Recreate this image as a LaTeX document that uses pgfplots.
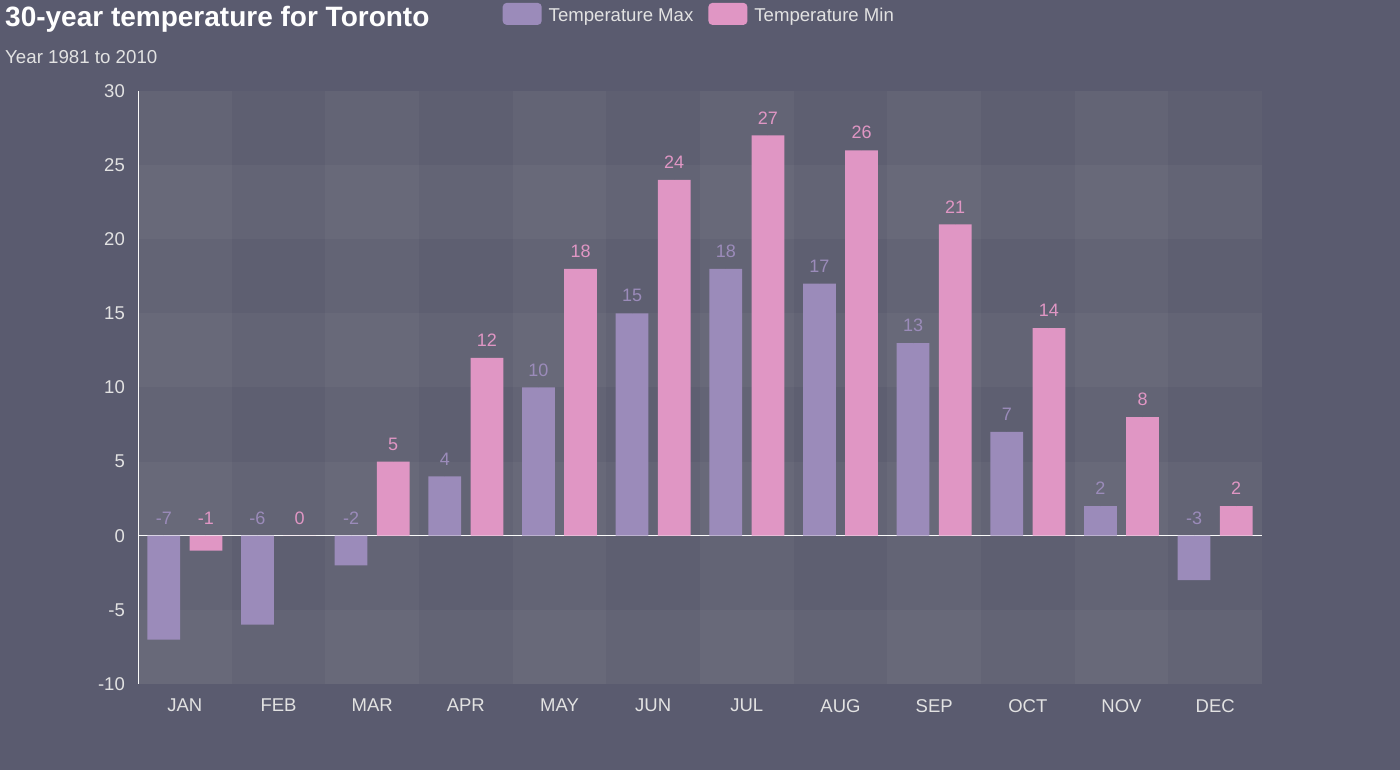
\documentclass[border=0pt]{standalone}
\usepackage{pgfplots}
\pgfplotsset{compat=1.18}
\usepackage{pgfplotstable}
\usepackage{fontspec}
\setmainfont{Liberation Sans}
\definecolor{bgc}{HTML}{5A5B6F}
\definecolor{maxc}{HTML}{9B8BBA}
\definecolor{minc}{HTML}{E096C4}
\definecolor{labc}{HTML}{E2E2E2}
\definecolor{c0}{RGB}{250,250,250}
\definecolor{c1}{RGB}{200,200,200}
\pgfplotstableread{
x max min
0 -7 -1
1 -6 0
2 -2 5
3 4 12
4 10 18
5 15 24
6 18 27
7 17 26
8 13 21
9 7 14
10 2 8
11 -3 2
}\temps
\begin{document}
\begin{tikzpicture}
\fill[bgc, use as bounding box] (0pt,0pt) rectangle (1400pt,770pt);
\node[anchor=base west, inner sep=0pt, text=white, font=\fontsize{28}{33}\selectfont\bfseries] at (5pt,743pt) {30-year temperature for Toronto};
\node[anchor=base west, inner sep=0pt, text=labc, font=\fontsize{18.7}{22}\selectfont] at (5pt,706pt) {Year 1981 to 2010};
\begin{axis}[
  at={(138pt,86pt)}, anchor=south west,
  scale only axis, width=1124pt, height=593pt,
  xmin=-0.5, xmax=11.5, ymin=-10, ymax=30,
  axis lines*=left,
  x axis line style={draw=none},
  y axis line style={draw=white, line width=1pt},
  major tick length=0pt,
  ytick={-10,-5,...,30},
  xtick={0,...,11},
  xticklabels={JAN,FEB,MAR,APR,MAY,JUN,JUL,AUG,SEP,OCT,NOV,DEC},
  tick label style={font=\fontsize{18.5}{22}\selectfont, text=labc},
  yticklabel style={inner sep=0pt, xshift=-13pt},
  xticklabel style={inner sep=0pt, yshift=-15pt},
  /pgf/number format/assume math mode=true,
  extra y ticks={0}, extra y tick labels={},
  extra y tick style={grid=major, major grid style={draw=white, line width=1.2pt}},
  legend columns=2,
  legend style={draw=none, fill=none, at={(0.4985,1.13)}, anchor=center,
    font=\fontsize{18.6}{22}\selectfont, text=labc,
    nodes={inner sep=0pt},
    /tikz/column 2/.style={column sep=15pt},
    /tikz/column 1/.style={column sep=7pt},
    /tikz/column 3/.style={column sep=7pt}},
  legend image code/.code={\fill[#1, rounded corners=4pt] (0pt,-9pt) rectangle (39pt,13pt);},
  clip=false,
]
% background split areas
\fill[c1, opacity=0.02] (axis cs:-0.5,-10) rectangle (axis cs:11.5,30);
\fill[c1, opacity=0.02] (axis cs:-0.5,-10) rectangle (axis cs:11.5,30);
\fill[c0, opacity=0.035] (axis cs:-0.5,-10) rectangle (axis cs:0.5,30);
\fill[c0, opacity=0.035] (axis cs:1.5,-10) rectangle (axis cs:2.5,30);
\fill[c0, opacity=0.035] (axis cs:3.5,-10) rectangle (axis cs:4.5,30);
\fill[c0, opacity=0.035] (axis cs:5.5,-10) rectangle (axis cs:6.5,30);
\fill[c0, opacity=0.035] (axis cs:7.5,-10) rectangle (axis cs:8.5,30);
\fill[c0, opacity=0.035] (axis cs:9.5,-10) rectangle (axis cs:10.5,30);
\fill[c0, opacity=0.035] (axis cs:-0.5,-10) rectangle (axis cs:11.5,-5);
\fill[c0, opacity=0.035] (axis cs:-0.5,0) rectangle (axis cs:11.5,5);
\fill[c0, opacity=0.035] (axis cs:-0.5,10) rectangle (axis cs:11.5,15);
\fill[c0, opacity=0.035] (axis cs:-0.5,20) rectangle (axis cs:11.5,25);
% bars
\addplot[ybar, bar width=0.35, bar shift=-0.225, fill=maxc, draw=none] table[x=x, y=max]{\temps};
\addlegendentry{Temperature Max}
\addplot[ybar, bar width=0.35, bar shift=0.225, fill=minc, draw=none] table[x=x, y=min]{\temps};
\addlegendentry{Temperature Min}
% labels
\addplot[forget plot, only marks, mark=*, mark size=0pt, mark options={draw=none, fill=none},
  nodes near coords, point meta=explicit,
  every node near coord/.style={anchor=south, inner sep=0pt, yshift=11pt, text=maxc, font=\fontsize{18}{21}\selectfont}]
  table[x expr=\thisrow{x}-0.225, y expr={max(\thisrow{max},0)}, meta=max]{\temps};
\addplot[forget plot, only marks, mark=*, mark size=0pt, mark options={draw=none, fill=none},
  nodes near coords, point meta=explicit,
  every node near coord/.style={anchor=south, inner sep=0pt, yshift=11pt, text=minc, font=\fontsize{18}{21}\selectfont}]
  table[x expr=\thisrow{x}+0.225, y expr={max(\thisrow{min},0)}, meta=min]{\temps};
\end{axis}
\end{tikzpicture}
\end{document}
